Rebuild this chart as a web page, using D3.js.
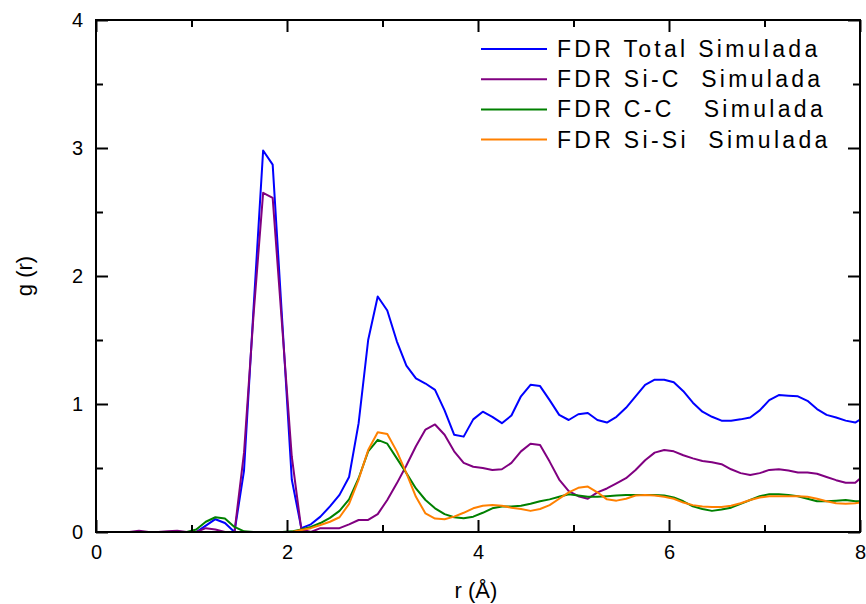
<!DOCTYPE html>
<html>
<head>
<meta charset="utf-8">
<script src="https://cdn.jsdelivr.net/npm/d3@7"></script>
<style>
  body { margin: 0; background: #fff; }
  svg { display: block; font-family: "Liberation Sans", Arial, sans-serif; }
</style>
</head>
<body>
<div id="chart"></div>
<script>
const W = 866, H = 604;
const MARGIN = { top: 20, right: 6, bottom: 72, left: 96 };

// r grid (Å), sampled every 0.1
const rValues = [0.05,0.15,0.25,0.35,0.45,0.55,0.65,0.75,0.85,0.95,
  1.05,1.15,1.25,1.35,1.45,1.55,1.65,1.75,1.85,1.95,
  2.05,2.15,2.25,2.35,2.45,2.55,2.65,2.75,2.85,2.95,
  3.05,3.15,3.25,3.35,3.45,3.55,3.65,3.75,3.85,3.95,
  4.05,4.15,4.25,4.35,4.45,4.55,4.65,4.75,4.85,4.95,
  5.05,5.15,5.25,5.35,5.45,5.55,5.65,5.75,5.85,5.95,
  6.05,6.15,6.25,6.35,6.45,6.55,6.65,6.75,6.85,6.95,
  7.05,7.15,7.25,7.35,7.45,7.55,7.65,7.75,7.85,7.95,8.05];

const gTotal = [0,0,0,0,0,0,0,0,0,0,
  0.0,0.05,0.10,0.07,0.0,0.48,1.75,2.98,2.87,1.65,
  0.41,0.03,0.06,0.12,0.20,0.29,0.43,0.85,1.50,1.84,
  1.73,1.49,1.30,1.20,1.16,1.11,0.95,0.76,0.745,0.88,
  0.94,0.90,0.85,0.91,1.06,1.15,1.14,1.03,0.915,0.875,
  0.92,0.93,0.875,0.855,0.90,0.97,1.06,1.15,1.19,1.19,
  1.17,1.10,1.01,0.94,0.90,0.87,0.87,0.88,0.895,0.95,
  1.03,1.07,1.065,1.06,1.025,0.96,0.915,0.895,0.87,0.855,0.90];

const gSiC = [0,0,0,0,0.01,0,0,0.005,0.01,0,
  0,0.03,0.02,0,0,0.62,1.70,2.65,2.61,1.60,
  0.59,0.02,0,0.03,0.03,0.03,0.06,0.094,0.094,0.14,
  0.25,0.38,0.52,0.67,0.80,0.84,0.76,0.63,0.54,0.51,
  0.50,0.485,0.49,0.54,0.63,0.69,0.68,0.55,0.41,0.32,
  0.28,0.26,0.31,0.34,0.38,0.42,0.485,0.56,0.62,0.64,
  0.63,0.60,0.575,0.555,0.545,0.53,0.49,0.46,0.445,0.46,
  0.485,0.49,0.48,0.465,0.465,0.455,0.43,0.405,0.385,0.385,0.45];

const gCC = [0,0,0,0,0,0,0,0,0,0,
  0.02,0.08,0.115,0.105,0.04,0.005,0,0,0,0,
  0.005,0.02,0.04,0.07,0.11,0.165,0.255,0.42,0.63,0.72,
  0.69,0.575,0.46,0.34,0.25,0.185,0.14,0.115,0.107,0.12,
  0.15,0.185,0.20,0.20,0.205,0.22,0.24,0.255,0.275,0.295,
  0.285,0.275,0.275,0.28,0.285,0.29,0.29,0.29,0.29,0.285,
  0.27,0.24,0.20,0.18,0.165,0.175,0.19,0.22,0.25,0.28,
  0.295,0.295,0.29,0.28,0.26,0.24,0.24,0.245,0.25,0.24,0.24];

const gSiSi = [0,0,0,0,0,0,0,0,0,0,
  0,0,0,0,0,0,0,0,0,0,
  0,0.015,0.03,0.055,0.08,0.115,0.22,0.41,0.64,0.78,
  0.765,0.63,0.46,0.275,0.145,0.105,0.10,0.12,0.15,0.185,
  0.205,0.21,0.205,0.19,0.18,0.165,0.18,0.21,0.26,0.31,
  0.345,0.355,0.31,0.255,0.245,0.26,0.285,0.29,0.285,0.275,
  0.26,0.23,0.21,0.20,0.195,0.195,0.205,0.225,0.25,0.27,
  0.28,0.28,0.28,0.28,0.275,0.26,0.24,0.225,0.22,0.225,0.235];

const seriesNames  = ['FDR Total Simulada', 'FDR Si-C  Simulada', 'FDR C-C   Simulada', 'FDR Si-Si  Simulada'];
const seriesValues = [gTotal, gSiC, gCC, gSiSi];
const seriesColors = ['#0000ff', '#800080', '#008000', '#ff8000'];

const xMajor = [0, 2, 4, 6, 8];
const xMinor = [1, 3, 5, 7];
const yMajor = [0, 1, 2, 3, 4];
const yMinor = [0.5, 1.5, 2.5, 3.5];

const w = W - MARGIN.left - MARGIN.right;
const h = H - MARGIN.top - MARGIN.bottom;

const svg = d3.select('#chart').append('svg').attr('width', W).attr('height', H);
const g = svg.append('g').attr('transform', `translate(${MARGIN.left},${MARGIN.top})`);

const x = d3.scaleLinear().domain([0, 8]).range([0, w]);
const y = d3.scaleLinear().domain([0, 4]).range([h, 0]);

svg.append('defs').append('clipPath').attr('id', 'plot-clip')
  .append('rect').attr('width', w).attr('height', h);

const line = d3.line().x(d => x(d[0])).y(d => y(d[1]));
const plot = g.append('g').attr('clip-path', 'url(#plot-clip)');
seriesValues.forEach((vals, i) => {
  plot.append('path')
    .datum(rValues.map((r, k) => [r, vals[k]]))
    .attr('fill', 'none')
    .attr('stroke', seriesColors[i])
    .attr('stroke-width', 2)
    .attr('stroke-linejoin', 'round')
    .attr('d', line);
});

// axes: ticks point inward on all four sides
function styleAxis(sel) {
  sel.select('.domain').remove();
  sel.selectAll('.tick line').attr('stroke', '#000').attr('stroke-width', 2);
  sel.selectAll('.tick text').attr('fill', '#000').style('font-size', '20px')
    .style('font-family', '"Liberation Sans", Arial, sans-serif');
}

g.append('g').attr('transform', `translate(0,${h})`)
  .call(d3.axisBottom(x).tickValues(xMajor).tickSize(-12).tickPadding(13).tickFormat(d3.format('d')))
  .call(styleAxis);
g.append('g').attr('transform', `translate(0,${h})`)
  .call(d3.axisBottom(x).tickValues(xMinor).tickSize(-7).tickFormat(''))
  .call(styleAxis);
g.append('g')
  .call(d3.axisTop(x).tickValues(xMajor).tickSize(-12).tickFormat(''))
  .call(styleAxis);
g.append('g')
  .call(d3.axisTop(x).tickValues(xMinor).tickSize(-7).tickFormat(''))
  .call(styleAxis);

g.append('g')
  .call(d3.axisLeft(y).tickValues(yMajor).tickSize(-12).tickPadding(13).tickFormat(d3.format('d')))
  .call(styleAxis);
g.append('g')
  .call(d3.axisLeft(y).tickValues(yMinor).tickSize(-7).tickFormat(''))
  .call(styleAxis);
g.append('g').attr('transform', `translate(${w},0)`)
  .call(d3.axisRight(y).tickValues(yMajor).tickSize(-12).tickFormat(''))
  .call(styleAxis);
g.append('g').attr('transform', `translate(${w},0)`)
  .call(d3.axisRight(y).tickValues(yMinor).tickSize(-7).tickFormat(''))
  .call(styleAxis);

g.append('rect').attr('width', w).attr('height', h)
  .attr('fill', 'none').attr('stroke', '#000').attr('stroke-width', 2);

// axis titles
g.append('text').attr('x', w / 2 - 2).attr('y', h + 66)
  .attr('text-anchor', 'middle').style('font-size', '22px').text('r (Å)');
g.append('text')
  .attr('transform', `translate(-64,${h / 2}) rotate(-90)`)
  .attr('text-anchor', 'middle').style('font-size', '22px').text('g (r)');

// legend
const legend = g.append('g').attr('transform', `translate(${385},${29})`);
seriesNames.forEach((name, i) => {
  const row = legend.append('g').attr('transform', `translate(0,${i * 30.2})`);
  row.append('line').attr('x1', 0).attr('x2', 66).attr('y1', 0).attr('y2', 0)
    .attr('stroke', seriesColors[i]).attr('stroke-width', 2);
  row.append('text').attr('x', 76).attr('y', 8)
    .style('font-size', '23px').style('letter-spacing', '3.3px')
    .style('white-space', 'pre').text(name);
});
</script>
</body>
</html>
